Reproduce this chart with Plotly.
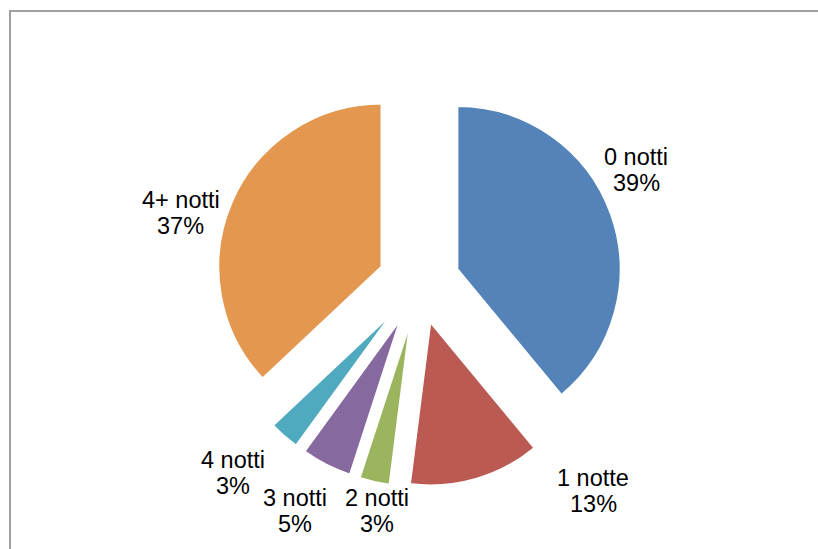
import math
import plotly.graph_objects as go

labels = ["0 notti", "1 notte", "2 notti", "3 notti", "4 notti", "4+ notti"]
values = [39, 13, 3, 5, 3, 37]
colors = ["#5383b8", "#bb5a52", "#9bb55e", "#85699f", "#4fa9bf", "#e3974f"]

W, H = 818, 549
PULL = 0.25
DOM_X = [0.2628, 0.7616]
DOM_Y = [0.1129, 0.8561]
FONT = dict(family="Arial, Liberation Sans, sans-serif", size=23.5, color="#000000")
LINE_PITCH = 26  # px between the two lines of a data label

# data-label placement ("best fit" style): angle nudge (deg) and distance factor (x radius)
label_angle_nudge = [-7.7, -23.8, -2.1, 1.6, 3.1, -7.0]
label_dist_factor = [1.50, 1.66, 1.42, 1.59, 1.63, 1.52]

fig = go.Figure(
    go.Pie(
        labels=labels,
        values=values,
        sort=False,
        direction="clockwise",
        rotation=0,
        pull=PULL,
        marker=dict(colors=colors, line=dict(color="white", width=2)),
        textinfo="none",
        domain=dict(x=DOM_X, y=DOM_Y),
        showlegend=False,
        hoverinfo="skip",
        automargin=False,
    )
)

# pie geometry as plotly computes it
box_w = W * (DOM_X[1] - DOM_X[0])
box_h = H * (DOM_Y[1] - DOM_Y[0])
r = min(box_w, box_h) / (2 + 2 * PULL)
cx = W * (DOM_X[0] + DOM_X[1]) / 2
cy = H * (1 - (DOM_Y[0] + DOM_Y[1]) / 2)

total = sum(values)
annotations = []
cum = 0
for lab, v, nudge, fac in zip(labels, values, label_angle_nudge, label_dist_factor):
    mid = (cum + v / 2) / total * 360 + nudge
    cum += v
    a = math.radians(mid)
    px = cx + fac * r * math.sin(a)
    py = cy - fac * r * math.cos(a)
    pct = round(v / total * 100)
    for txt, shift in ((lab, LINE_PITCH / 2), (f"{pct}%", -LINE_PITCH / 2)):
        annotations.append(dict(
            x=px / W, y=1 - py / H, xref="paper", yref="paper",
            text=txt, showarrow=False, yshift=shift,
            xanchor="center", yanchor="middle", align="center",
            font=FONT,
        ))

fig.update_layout(
    width=W,
    height=H,
    showlegend=False,
    margin=dict(l=0, r=0, t=0, b=0, autoexpand=False),
    paper_bgcolor="white",
    annotations=annotations,
    shapes=[
        dict(type="rect", xref="paper", yref="paper",
             x0=10 / W, x1=1.05, y0=-0.05, y1=1 - 11 / H,
             line=dict(color="#a0a0a0", width=2), fillcolor="rgba(0,0,0,0)", layer="below")
    ],
)

fig.write_html("out.html")
